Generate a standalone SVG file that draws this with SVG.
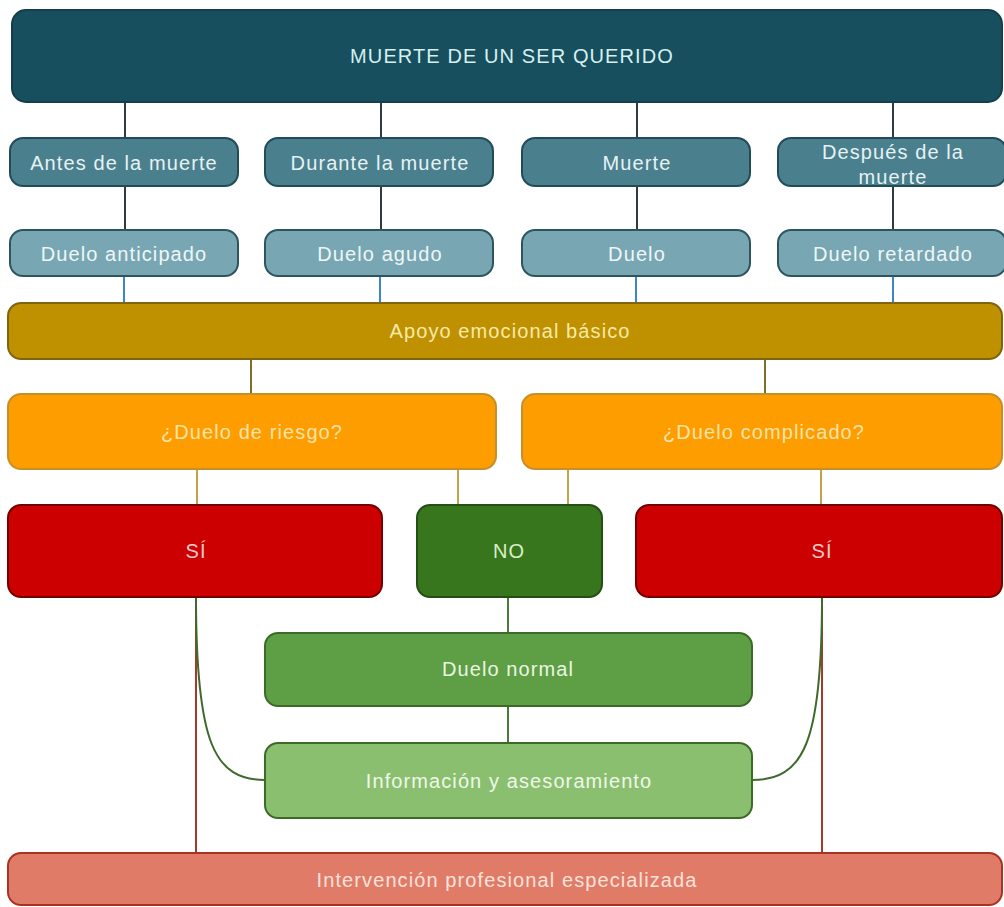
<svg xmlns="http://www.w3.org/2000/svg" width="1004" height="907" viewBox="0 0 1004 907">
<style>
text{font-family:"Liberation Sans",Arial,sans-serif;font-size:20px;letter-spacing:1.1px;text-anchor:middle}
rect{stroke-width:2}
.c{fill:none;stroke-width:2}
</style>
<rect width="1004" height="907" fill="#ffffff"/>
<g id="connectors">
<g class="c" stroke="#2e3b40">
<line x1="125" y1="102" x2="125" y2="138"/><line x1="381" y1="102" x2="381" y2="138"/><line x1="637" y1="102" x2="637" y2="138"/><line x1="893" y1="102" x2="893" y2="138"/>
<line x1="125" y1="186" x2="125" y2="230"/><line x1="381" y1="186" x2="381" y2="230"/><line x1="637" y1="186" x2="637" y2="230"/><line x1="893" y1="186" x2="893" y2="230"/>
</g>
<g class="c" stroke="#3d85c6">
<line x1="124" y1="276" x2="124" y2="303"/><line x1="380" y1="276" x2="380" y2="303"/><line x1="636" y1="276" x2="636" y2="303"/><line x1="893" y1="276" x2="893" y2="303"/>
</g>
<g class="c" stroke="#7d6e2a">
<line x1="251" y1="359" x2="251" y2="394"/><line x1="765" y1="359" x2="765" y2="394"/>
</g>
<g class="c" stroke="#c4a24a">
<line x1="197" y1="469" x2="197" y2="505"/><line x1="458" y1="469" x2="458" y2="505"/><line x1="568" y1="469" x2="568" y2="505"/><line x1="821" y1="469" x2="821" y2="505"/>
</g>
<g class="c" stroke="#4a7a38">
<line x1="508" y1="597" x2="508" y2="633"/><line x1="508" y1="706" x2="508" y2="743"/>
</g>
<g class="c" stroke="#a63a2a">
<line x1="196" y1="597" x2="196" y2="853"/><line x1="822" y1="597" x2="822" y2="853"/>
</g>
<g class="c" stroke="#3f6a2c">
<path d="M196,597 C196,745 215,780 265,780"/>
<path d="M822,597 C822,745 803,780 752,780"/>
</g>
</g>
<g id="n-muerte-ser-querido"><rect x="12" y="10" width="990" height="92" rx="14" fill="#174f5e" stroke="#123f4a"/><text x="512" y="63" fill="#d6f0f0">MUERTE DE UN SER QUERIDO</text></g>
<g id="n-antes"><rect x="10" y="138" width="228" height="48" rx="13" fill="#4a7f8d" stroke="#214c57"/><text x="124" y="170" fill="#e6f2f4">Antes de la muerte</text></g>
<g id="n-durante"><rect x="265" y="138" width="228" height="48" rx="13" fill="#4a7f8d" stroke="#214c57"/><text x="380" y="170" fill="#e6f2f4">Durante la muerte</text></g>
<g id="n-muerte"><rect x="522" y="138" width="228" height="48" rx="13" fill="#4a7f8d" stroke="#214c57"/><text x="637" y="170" fill="#e6f2f4">Muerte</text></g>
<g id="n-despues"><rect x="778" y="138" width="228" height="48" rx="13" fill="#4a7f8d" stroke="#214c57"/><text x="893" y="159" fill="#e6f2f4">Después de la</text><text x="893" y="184" fill="#e6f2f4">muerte</text></g>
<g id="n-anticipado"><rect x="10" y="230" width="228" height="46" rx="13" fill="#78a7b3" stroke="#2c5560"/><text x="124" y="261" fill="#eef6f8">Duelo anticipado</text></g>
<g id="n-agudo"><rect x="265" y="230" width="228" height="46" rx="13" fill="#78a7b3" stroke="#2c5560"/><text x="380" y="261" fill="#eef6f8">Duelo agudo</text></g>
<g id="n-duelo"><rect x="522" y="230" width="228" height="46" rx="13" fill="#78a7b3" stroke="#2c5560"/><text x="637" y="261" fill="#eef6f8">Duelo</text></g>
<g id="n-retardado"><rect x="778" y="230" width="228" height="46" rx="13" fill="#78a7b3" stroke="#2c5560"/><text x="893" y="261" fill="#eef6f8">Duelo retardado</text></g>
<g id="n-apoyo"><rect x="8" y="303" width="994" height="56" rx="13" fill="#bf9000" stroke="#7f6410"/><text x="510" y="338" fill="#f7eaa8">Apoyo emocional básico</text></g>
<g id="n-riesgo"><rect x="8" y="394" width="488" height="75" rx="13" fill="#fd9d00" stroke="#c5902a"/><text x="252" y="439" fill="#fde3a8">¿Duelo de riesgo?</text></g>
<g id="n-complicado"><rect x="522" y="394" width="480" height="75" rx="13" fill="#fd9d00" stroke="#c5902a"/><text x="764" y="439" fill="#fde3a8">¿Duelo complicado?</text></g>
<g id="n-si-1"><rect x="8" y="505" width="374" height="92" rx="13" fill="#cc0000" stroke="#730000"/><text x="196" y="558" fill="#f2c8c8">SÍ</text></g>
<g id="n-no"><rect x="417" y="505" width="185" height="92" rx="13" fill="#38761d" stroke="#244f14"/><text x="509" y="558" fill="#d8f0c8">NO</text></g>
<g id="n-si-2"><rect x="636" y="505" width="366" height="92" rx="13" fill="#cc0000" stroke="#730000"/><text x="822" y="558" fill="#f2c8c8">SÍ</text></g>
<g id="n-normal"><rect x="265" y="633" width="487" height="73" rx="13" fill="#5e9e44" stroke="#3b6b27"/><text x="508" y="676" fill="#eaf6e2">Duelo normal</text></g>
<g id="n-info"><rect x="265" y="743" width="487" height="75" rx="13" fill="#8bbf70" stroke="#3b6b27"/><text x="509" y="788" fill="#eef8e8">Información y asesoramiento</text></g>
<g id="n-intervencion"><rect x="8" y="853" width="994" height="52" rx="13" fill="#e07b68" stroke="#a93222"/><text x="507" y="887" fill="#fde2da">Intervención profesional especializada</text></g>
</svg>
